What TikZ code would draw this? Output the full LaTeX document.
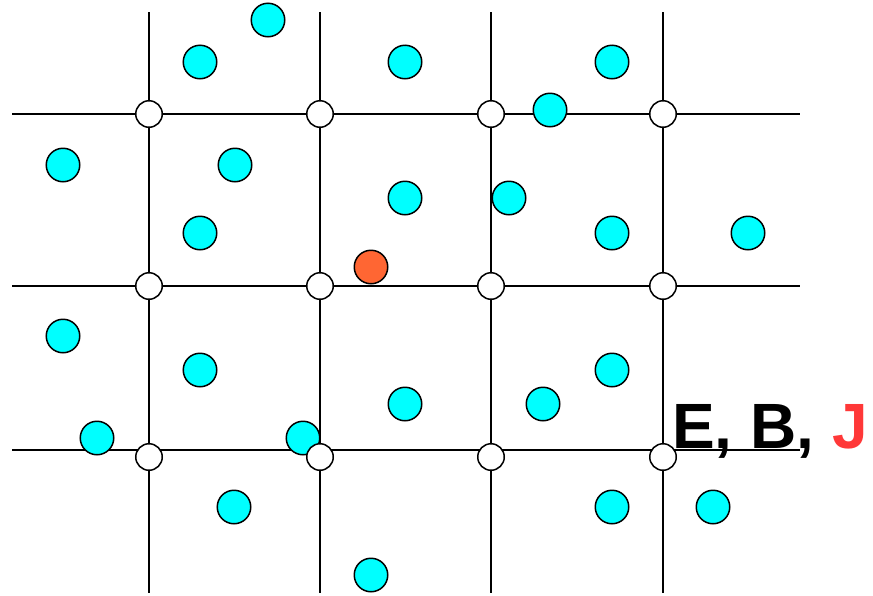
\documentclass[tikz,border=0pt]{standalone}
\usepackage{fontspec}
\setmainfont{Liberation Sans}
\definecolor{aqua}{HTML}{00FFFF}
\definecolor{charge}{HTML}{FF6633}
\definecolor{redJ}{HTML}{FF3838}

\tikzset{
  wire/.style={line width=1.4pt},
  mesh/.style={circle,draw,fill=white,line width=1.5pt,inner sep=0pt,minimum size=26.5pt},
  particle/.style={circle,draw,fill=aqua,line width=1.5pt,inner sep=0pt,minimum size=33.5pt},
  tagged/.style={particle,fill=charge}
}

\begin{document}
\begin{tikzpicture}[x=1pt,y=-1pt]
  \useasboundingbox (0,0) rectangle (873,595);
  % grid lines
  \foreach \y [count=\r] in {114,286,450} {
    \coordinate (hl\r) at (12,\y);
    \coordinate (hr\r) at (800,\y);
    \draw[wire] (hl\r) -- (hr\r);
  }
  \foreach \x [count=\c] in {149,320,491,663} {
    \coordinate (vt\c) at (\x,12);
    \coordinate (vb\c) at (\x,593);
    \draw[wire] (vt\c) -- (vb\c);
  }
  % particles
  \foreach \x/\y [count=\k] in {268/20,200/62,405/62,612/62,550/110,
      63/165,235/165,405/198,509/198,200/233,612/233,748/233,
      63/336,200/370,612/370,405/404,543/404,97/438,303/438,
      234/507,612/507,713/507,371/575}
    \node[particle] (p\k) at (\x,\y) {};
  \node[tagged] (q) at (371,267) {};
  % mesh points
  \foreach \y [count=\r] in {114,286,457}
    \foreach \x [count=\c] in {149,320,491,663}
      \node[mesh] (m\r\c) at (\x,\y) {};
  \node[anchor=base west,inner sep=0pt,font=\bfseries\fontsize{64}{64}\selectfont]
    (fields) at (672,448) {E, B, \textcolor{redJ}{J}};
\end{tikzpicture}
\end{document}
